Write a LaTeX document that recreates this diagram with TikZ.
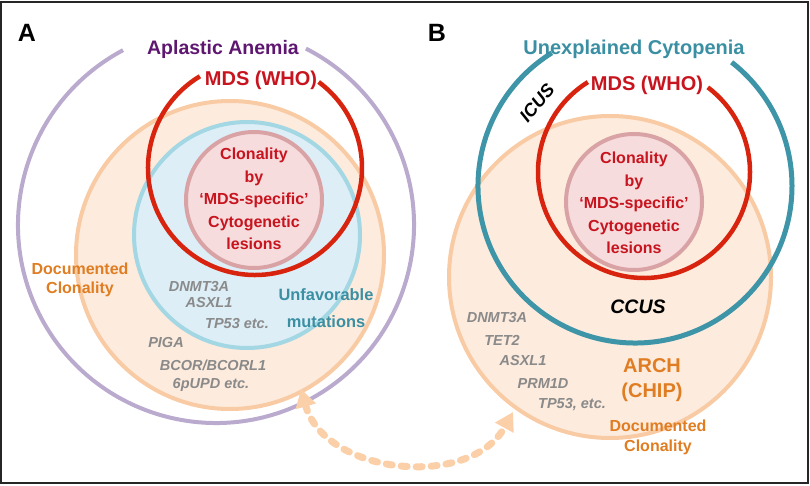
\documentclass[tikz,border=0pt]{standalone}
\usepackage{fontspec}
\setmainfont{Liberation Sans}
\usetikzlibrary{arrows.meta}
\definecolor{purpT}{HTML}{5E1670}
\definecolor{lav}{HTML}{B9AACE}
\definecolor{mdsred}{HTML}{D8240F}
\definecolor{redT}{HTML}{C8141E}
\definecolor{orS}{HTML}{F9CBA4}
\definecolor{orF}{HTML}{FDEBDD}
\definecolor{blS}{HTML}{A2D7E3}
\definecolor{blF}{HTML}{DDEEF7}
\definecolor{pkS}{HTML}{D9A3A6}
\definecolor{pkF}{HTML}{F6DCDD}
\definecolor{teal}{HTML}{3E95A8}
\definecolor{tealT}{HTML}{3A8FA3}
\definecolor{orT}{HTML}{E07D22}
\definecolor{grayT}{HTML}{8A8A8A}
\definecolor{arrC}{HTML}{FBCFA8}
\begin{document}
\begin{tikzpicture}[x=1pt,y=1pt,
  txt/.style={inner sep=0pt,align=center,font=\bfseries\fontsize{#1}{#1}\selectfont},
  panel/.style={txt=25,text=black},
  gene/.style={inner sep=0pt,text=grayT,font=\bfseries\itshape\fontsize{14.5}{14.5}\selectfont},
  cyto/.style={inner sep=0pt,align=center,text=redT,font=\bfseries\fontsize{16}{22.5}\selectfont},
  ring/.style={line width=4pt},
]
\useasboundingbox (0,0) rectangle (810,485);
\draw[line width=1.2pt,black!85] (1,2) rectangle (808,483);

% ---------- Panel A ----------
\node[panel] (labA) at (27,452) {A};
\draw[ring,lav] (216,260) ++(118:198) arc[start angle=118,end angle=423,radius=198];
\draw[ring,orS,fill=orF] (230,230) circle[radius=154];
\draw[ring,blS,fill=blF] (247,250) circle[radius=113];
\draw[line width=4.5pt,mdsred] (255,317) ++(121:107) arc[start angle=121,end angle=413.5,radius=107];
\draw[ring,pkS,fill=pkF] (254,285) circle[radius=68];

\node[txt=19.5,text=purpT] (aa) at (223,436) {Aplastic Anemia};
\node[txt=20,text=redT] (mdsA) at (261,405) {MDS (WHO)};
\node[cyto] (cytA) at (254,286) {Clonality\\by\\`MDS-specific'\\Cytogenetic\\lesions};
\node[inner sep=0pt,align=center,text=orT,font=\bfseries\fontsize{16}{18.5}\selectfont] (docA) at (80,205) {Documented\\Clonality};
\node[inner sep=0pt,align=center,text=tealT,font=\bfseries\fontsize{16.4}{27}\selectfont] (unf) at (326,177) {Unfavorable\\mutations};
\node[gene] (gA1) at (199,198) {DNMT3A};
\node[gene] (gA2) at (209,182) {ASXL1};
\node[gene] (gA3) at (237,161) {TP53 etc.};
\node[gene] (gA4) at (166,142) {PIGA};
\node[gene] (gA5) at (213,120) {BCOR/BCORL1};
\node[gene] (gA6) at (211,100) {6pUPD etc.};

% ---------- Panel B ----------
\node[panel] (labB) at (437,452) {B};
\draw[ring,orS,fill=orF] (610,208) circle[radius=161];
\draw[line width=5pt,teal] (635,299) ++(122:157) arc[start angle=122,end angle=412,radius=157];
\draw[line width=4.5pt,mdsred] (644,313) ++(122:106) arc[start angle=122,end angle=413,radius=106];
\draw[ring,pkS,fill=pkF] (634,283) circle[radius=68];

\node[txt=20,text=tealT] (uc) at (634,436) {Unexplained Cytopenia};
\node[txt=20,text=redT] (mdsB) at (647,400) {MDS (WHO)};
\node[inner sep=0pt,rotate=50,text=black,font=\bfseries\itshape\fontsize{18}{18}\selectfont] (icus) at (537,382) {ICUS};
\node[inner sep=0pt,text=black,font=\bfseries\itshape\fontsize{19.5}{19.5}\selectfont] (ccus) at (638,178) {CCUS};
\node[cyto] (cytB) at (634,282) {Clonality\\by\\`MDS-specific'\\Cytogenetic\\lesions};
\node[inner sep=0pt,align=center,text=orT,font=\bfseries\fontsize{20}{25}\selectfont] (arch) at (652,105) {ARCH\\(CHIP)};
\node[inner sep=0pt,align=center,text=orT,font=\bfseries\fontsize{16}{20}\selectfont] (docB) at (658,48) {Documented\\Clonality};
\node[gene] (gB1) at (497,167) {DNMT3A};
\node[gene] (gB2) at (502,145) {TET2};
\node[gene] (gB3) at (523,124) {ASXL1};
\node[gene] (gB4) at (543,101) {PRM1D};
\node[gene] (gB5) at (572,80) {TP53, etc.};

% ---------- arrow ----------
\coordinate (arrA) at (301,96);
\coordinate (arrB) at (513,73);
\draw[arrC,line width=7pt,line cap=round,dash pattern=on 6pt off 9pt,
  {Triangle[length=18pt,width=20pt]}-{Triangle[length=18pt,width=20pt]}]
  (arrA) .. controls (325,10) and (470,-5) .. (arrB);
\end{tikzpicture}
\end{document}
